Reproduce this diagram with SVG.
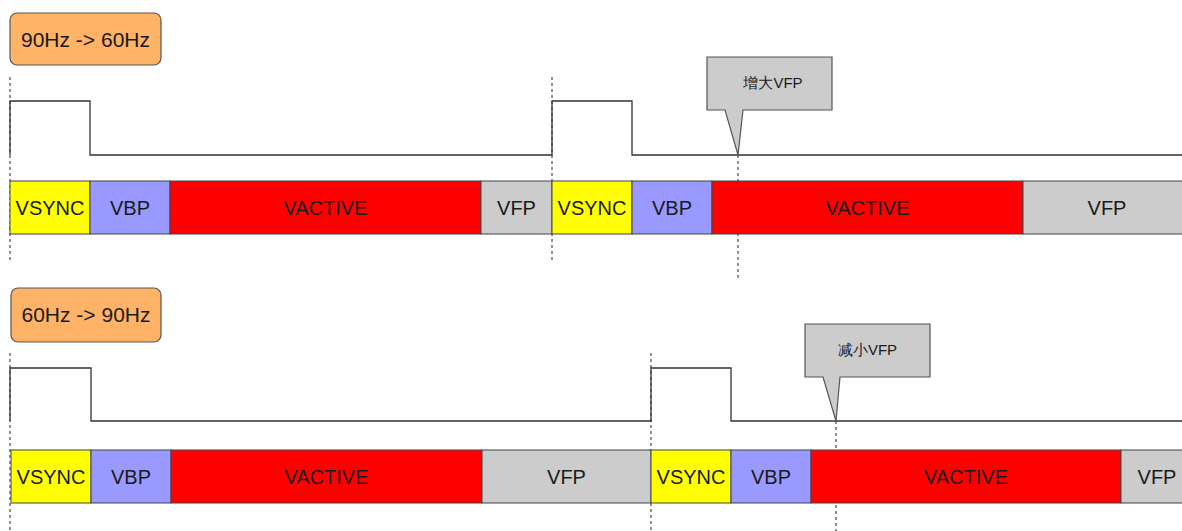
<svg xmlns="http://www.w3.org/2000/svg" width="1182" height="531" viewBox="0 0 1182 531">
<style>
.lbl{fill:#FFB366;stroke:#555;stroke-width:1.2}
.t{font-family:"Liberation Sans",Arial,sans-serif;fill:#1a1a1a;text-anchor:middle}
.big{font-size:20px}
.hdr{font-size:21px}
.small{font-size:15px}
.sig{fill:none;stroke:#333;stroke-width:1.3}
.dash{fill:none;stroke:#222;stroke-width:1;stroke-dasharray:3 3}
.seg{stroke:#444;stroke-width:1}
.vs{fill:#FFFF00}.vb{fill:#9999FF}.va{fill:#FF0000}.vf{fill:#CCCCCC}
.call{fill:#CCCCCC;stroke:#555;stroke-width:1.2}
</style>
<rect width="1182" height="531" fill="#fff"/>
<g id="connectors">
<path class="dash" d="M10,77V263M552,77V262M738,155V278"/>
<path class="dash" d="M10,353V531M651,353V531M836,421V531"/>
<path class="sig" d="M10,155V101H90V155H552V101H632V155H1182"/>
<path class="sig" d="M10,421V368H91V421H651V368H731V421H1182"/>
</g>
<g id="label1"><rect class="lbl" x="10" y="13" width="151" height="52" rx="7"/><text class="t hdr" x="85.5" y="47">90Hz -&gt; 60Hz</text></g>
<g id="label2"><rect class="lbl" x="11" y="288" width="150" height="54" rx="7"/><text class="t hdr" x="86" y="322">60Hz -&gt; 90Hz</text></g>
<g id="row1">
<g id="r1-vsync1"><rect class="seg vs" x="10" y="181" width="80" height="53"/><text class="t big" x="50" y="215">VSYNC</text></g>
<g id="r1-vbp1"><rect class="seg vb" x="90" y="181" width="80" height="53"/><text class="t big" x="130" y="215">VBP</text></g>
<g id="r1-vactive1"><rect class="seg va" x="170" y="181" width="311" height="53"/><text class="t big" x="325.5" y="215">VACTIVE</text></g>
<g id="r1-vfp1"><rect class="seg vf" x="481" y="181" width="71" height="53"/><text class="t big" x="516.5" y="215">VFP</text></g>
<g id="r1-vsync2"><rect class="seg vs" x="552" y="181" width="80" height="53"/><text class="t big" x="592" y="215">VSYNC</text></g>
<g id="r1-vbp2"><rect class="seg vb" x="632" y="181" width="80" height="53"/><text class="t big" x="672" y="215">VBP</text></g>
<g id="r1-vactive2"><rect class="seg va" x="712" y="181" width="311" height="53"/><text class="t big" x="867.5" y="215">VACTIVE</text></g>
<g id="r1-vfp2"><rect class="seg vf" x="1023" y="181" width="162" height="53"/><text class="t big" x="1107" y="215">VFP</text></g>
</g>
<g id="row2">
<g id="r2-vsync1"><rect class="seg vs" x="11" y="450" width="80" height="53"/><text class="t big" x="51" y="484">VSYNC</text></g>
<g id="r2-vbp1"><rect class="seg vb" x="91" y="450" width="80" height="53"/><text class="t big" x="131" y="484">VBP</text></g>
<g id="r2-vactive1"><rect class="seg va" x="171" y="450" width="311" height="53"/><text class="t big" x="326.5" y="484">VACTIVE</text></g>
<g id="r2-vfp1"><rect class="seg vf" x="482" y="450" width="169" height="53"/><text class="t big" x="566.5" y="484">VFP</text></g>
<g id="r2-vsync2"><rect class="seg vs" x="651" y="450" width="80" height="53"/><text class="t big" x="691" y="484">VSYNC</text></g>
<g id="r2-vbp2"><rect class="seg vb" x="731" y="450" width="80" height="53"/><text class="t big" x="771" y="484">VBP</text></g>
<g id="r2-vactive2"><rect class="seg va" x="811" y="450" width="310" height="53"/><text class="t big" x="966" y="484">VACTIVE</text></g>
<g id="r2-vfp2"><rect class="seg vf" x="1121" y="450" width="64" height="53"/><text class="t big" x="1157" y="484">VFP</text></g>
</g>
<g id="callout1"><path class="call" d="M707,57H832V110H743L738,155L725,110H707Z"/><text class="t small" x="773" y="88" font-family="'Liberation Sans','Noto Sans CJK SC',sans-serif">增大VFP</text></g>
<g id="callout2"><path class="call" d="M805,324H930V377H840L836,421L823,377H805Z"/><text class="t small" x="867.5" y="355" font-family="'Liberation Sans','Noto Sans CJK SC',sans-serif">减小VFP</text></g>
</svg>
